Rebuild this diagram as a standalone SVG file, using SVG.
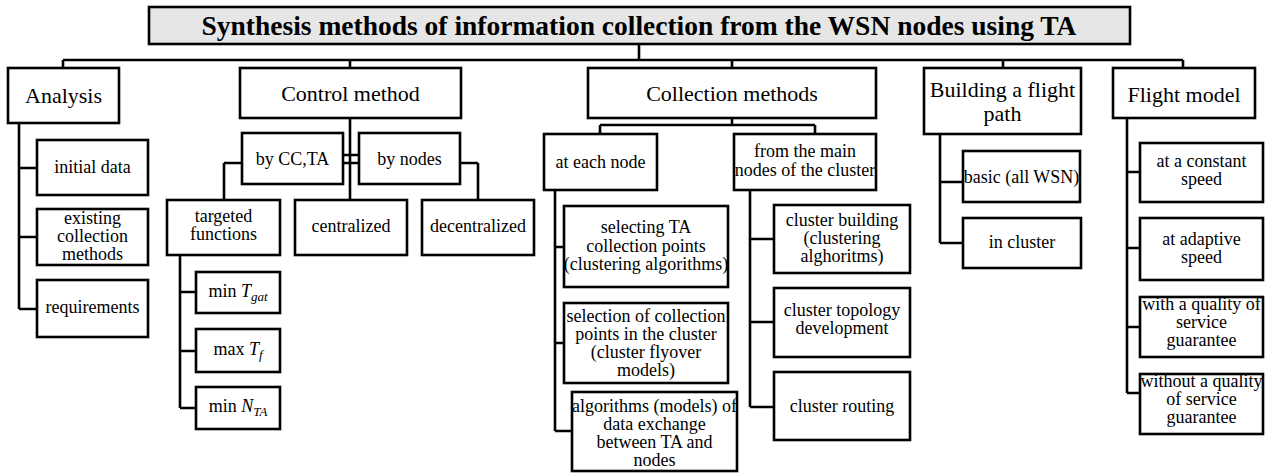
<svg xmlns="http://www.w3.org/2000/svg" width="1265" height="473" viewBox="0 0 1265 473">
<style>
rect{fill:#fff;stroke:#000;stroke-width:2.6}
rect.title{fill:#e6e6e6}
#connectors path{fill:none;stroke:#000;stroke-width:2.6}
text{font-family:"Liberation Serif","Times New Roman",serif;font-size:18px;fill:#000;text-anchor:middle}
text.h{font-size:22px}
text.t{font-size:27.5px;font-weight:bold}
.i{font-style:italic}
.s{font-style:italic;font-size:13px}
</style>
<rect width="1265" height="473" style="fill:#fff;stroke:none"/>
<g id="connectors">
<path d="M639 44V60M63 60H1183M63 60V68M350 60V68M732 60V68M1003 60V68M1183 60V68"/>
<path d="M19 123V309M19 168H37M19 237H37M19 309H37"/>
<path d="M350 118V163M343 155H359M224 163H478M224 163V200M350 163V200M478 163V200"/>
<path d="M180 255V408M180 292H196M180 351H196M180 408H196"/>
<path d="M732 118V125M600 125H815M600 125V134M815 125V134"/>
<path d="M555 190V431M555 247H564M555 343H564M555 431H572"/>
<path d="M750 190V407M750 239H774M750 322H774M750 407H774"/>
<path d="M940 134V243M940 182H963M940 243H963"/>
<path d="M1127 118V393M1127 172H1140M1127 248H1140M1127 327H1140M1127 393H1140"/>
</g>
<g id="title"><rect class="title" x="149" y="7" width="981" height="37"/><text class="t" x="639" y="35">Synthesis methods of information collection from the WSN nodes using TA</text></g>
<g id="analysis"><rect x="8" y="68" width="111" height="55"/><text class="h" x="63.5" y="103">Analysis</text></g>
<g id="initial-data"><rect x="37" y="140" width="111" height="55"/><text x="92.5" y="173">initial data</text></g>
<g id="existing-methods"><rect x="37" y="209" width="111" height="56"/><text x="92.5" y="224">existing</text><text x="92.5" y="242">collection</text><text x="92.5" y="260">methods</text></g>
<g id="requirements"><rect x="37" y="280" width="111" height="57"/><text x="92.5" y="313">requirements</text></g>
<g id="control-method"><rect x="240" y="68" width="221" height="50"/><text class="h" x="350.5" y="100.5">Control method</text></g>
<g id="by-cc-ta"><rect x="242" y="133" width="101" height="51"/><text x="292.5" y="165">by CC,TA</text></g>
<g id="by-nodes"><rect x="359" y="133" width="101" height="51"/><text x="409.5" y="165">by nodes</text></g>
<g id="targeted-functions"><rect x="167" y="200" width="113" height="55"/><text x="223.5" y="222">targeted</text><text x="223.5" y="240">functions</text></g>
<g id="centralized"><rect x="295" y="200" width="112" height="55"/><text x="351" y="232">centralized</text></g>
<g id="decentralized"><rect x="422" y="200" width="112" height="55"/><text x="478" y="232">decentralized</text></g>
<g id="min-tgat"><rect x="196" y="272" width="84" height="41"/><text x="238" y="297">min <tspan class="i">T</tspan><tspan class="s" dy="4">gat</tspan></text></g>
<g id="max-tf"><rect x="196" y="329" width="84" height="43"/><text x="238" y="355">max <tspan class="i">T</tspan><tspan class="s" dy="4">f</tspan></text></g>
<g id="min-nta"><rect x="196" y="387" width="84" height="42"/><text x="238" y="412">min <tspan class="i">N</tspan><tspan class="s" dy="4">TA</tspan></text></g>
<g id="collection-methods"><rect x="588" y="68" width="288" height="50"/><text class="h" x="732" y="100.5">Collection methods</text></g>
<g id="at-each-node"><rect x="544" y="134" width="113" height="56"/><text x="600.5" y="168">at each node</text></g>
<g id="from-main-nodes"><rect x="734" y="134" width="142" height="56"/><text x="805" y="157">from the main</text><text x="805" y="175.5">nodes of the cluster</text></g>
<g id="selecting-points"><rect x="564" y="206" width="164" height="81"/><text x="646" y="233">selecting TA</text><text x="646" y="252">collection points</text><text x="646" y="270">(clustering algorithms)</text></g>
<g id="selection-cluster"><rect x="564" y="303" width="164" height="80"/><text x="646" y="322">selection of collection</text><text x="646" y="340">points in the cluster</text><text x="646" y="358">(cluster flyover</text><text x="646" y="376">models)</text></g>
<g id="data-exchange"><rect x="572" y="392" width="165" height="79"/><text x="654.5" y="412">algorithms (models) of</text><text x="654.5" y="430">data exchange</text><text x="654.5" y="448">between TA and</text><text x="654.5" y="466">nodes</text></g>
<g id="cluster-building"><rect x="774" y="205" width="136" height="68"/><text x="842" y="226">cluster building</text><text x="842" y="244">(clustering</text><text x="842" y="262">alghoritms)</text></g>
<g id="cluster-topology"><rect x="774" y="288" width="136" height="69"/><text x="842" y="316">cluster topology</text><text x="842" y="334">development</text></g>
<g id="cluster-routing"><rect x="774" y="372" width="136" height="68"/><text x="842" y="412">cluster routing</text></g>
<g id="building-path"><rect x="924" y="68" width="157" height="66"/><text class="h" x="1002.5" y="96.5">Building a flight</text><text class="h" x="1002.5" y="120.5">path</text></g>
<g id="basic"><rect x="963" y="151" width="117" height="51"/><text x="1021.5" y="183">basic (all WSN)</text></g>
<g id="in-cluster"><rect x="963" y="218" width="118" height="50"/><text x="1022" y="248">in cluster</text></g>
<g id="flight-model"><rect x="1113" y="68" width="142" height="50"/><text class="h" x="1184" y="102">Flight model</text></g>
<g id="constant-speed"><rect x="1140" y="143" width="123" height="59"/><text x="1201.5" y="167">at a constant</text><text x="1201.5" y="185">speed</text></g>
<g id="adaptive-speed"><rect x="1140" y="218" width="123" height="62"/><text x="1201.5" y="245">at adaptive</text><text x="1201.5" y="263">speed</text></g>
<g id="with-qos"><rect x="1140" y="297" width="123" height="60"/><text x="1201.5" y="310">with a quality of</text><text x="1201.5" y="328">service</text><text x="1201.5" y="346">guarantee</text></g>
<g id="without-qos"><rect x="1140" y="374" width="123" height="60"/><text x="1201.5" y="387">without a quality</text><text x="1201.5" y="405">of service</text><text x="1201.5" y="423">guarantee</text></g>
</svg>
